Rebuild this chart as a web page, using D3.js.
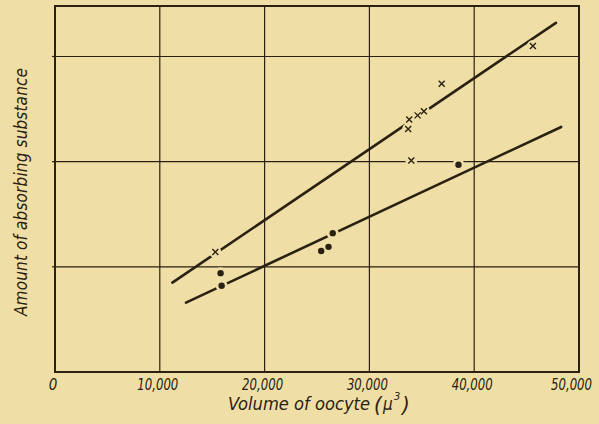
<!DOCTYPE html>
<html><head><meta charset="utf-8">
<script src="https://cdn.jsdelivr.net/npm/d3@7"></script>
<style>
html,body{margin:0;padding:0;background:#efdfa6;}
svg{display:block;}
text{font-family:"Liberation Sans Narrow","DejaVu Sans Condensed",sans-serif;font-style:italic;fill:#2a2112;}
</style></head>
<body>
<svg id="c" width="599" height="424"></svg>
<script>
// ---- data ----
const xTicks = [0, 10000, 20000, 30000, 40000, 50000];
const xTickLabels = ["0", "10,000", "20,000", "30,000", "40,000", "50,000"];
const yGrid = [1, 2, 3];
// crosses (upper series)
const crossX = [15300, 33800, 34600, 35200, 33700, 36900, 34000, 45600];
const crossY = [1.14, 2.40, 2.44, 2.48, 2.31, 2.74, 2.01, 3.10];
// dots (lower series)
const dotX = [15800, 15900, 25400, 26100, 26500, 38500];
const dotY = [0.94, 0.82, 1.15, 1.19, 1.32, 1.97];
// fitted lines (end points)
const upperLineX = [11200, 47800];
const upperLineY = [0.85, 3.32];
const lowerLineX = [12500, 48300];
const lowerLineY = [0.66, 2.33];
const xTitle = "Volume of oocyte";
const xUnit = "μ";
const yTitle = "Amount of absorbing substance";

// ---- drawing ----
const bg = "#efdfa6", ink = "#2a2112";
const svg = d3.select("#c");
const x = d3.scaleLinear().domain([0, 50000]).range([55, 579]);
const y = d3.scaleLinear().domain([0, 3.48]).range([372, 6]);

const g = svg.append("g");
g.selectAll(".vg").data(xTicks.slice(1, -1)).join("line")
  .attr("x1", d => x(d)).attr("x2", d => x(d))
  .attr("y1", y(0)).attr("y2", y(3.48))
  .attr("stroke", ink).attr("stroke-width", 1.2);
g.selectAll(".hg").data(yGrid).join("line")
  .attr("x1", x(0)).attr("x2", x(50000))
  .attr("y1", d => y(d)).attr("y2", d => y(d))
  .attr("stroke", ink).attr("stroke-width", 1.2);
g.selectAll(".lt").data(yGrid).join("line")
  .attr("x1", x(0) - 3).attr("x2", x(0))
  .attr("y1", d => y(d)).attr("y2", d => y(d))
  .attr("stroke", ink).attr("stroke-width", 1.2);
g.append("rect").attr("x", x(0)).attr("y", y(3.48))
  .attr("width", x(50000) - x(0)).attr("height", y(0) - y(3.48))
  .attr("fill", "none").attr("stroke", ink).attr("stroke-width", 2);

const line = d3.line().x(d => x(d[0])).y(d => y(d[1]));
[[upperLineX, upperLineY], [lowerLineX, lowerLineY]].forEach(([xs, ys]) => {
  g.append("path").datum(xs.map((v, i) => [v, ys[i]]))
    .attr("d", line).attr("fill", "none")
    .attr("stroke", ink).attr("stroke-width", 2.6).attr("stroke-linecap", "round");
});

const crosses = crossX.map((v, i) => [v, crossY[i]]);
const dots = dotX.map((v, i) => [v, dotY[i]]);
const cr = 3;
const crossPath = d => {
  const cx = x(d[0]), cy = y(d[1]);
  return `M${cx-cr},${cy-cr}L${cx+cr},${cy+cr}M${cx-cr},${cy+cr}L${cx+cr},${cy-cr}`;
};
g.selectAll(".ch").data(crosses).join("circle")
  .attr("cx", d => x(d[0])).attr("cy", d => y(d[1])).attr("r", 6).attr("fill", bg);
g.selectAll(".dh").data(dots).join("circle")
  .attr("cx", d => x(d[0])).attr("cy", d => y(d[1])).attr("r", 6).attr("fill", bg);
g.selectAll(".cm").data(crosses).join("path")
  .attr("d", crossPath).attr("stroke", ink).attr("stroke-width", 1.4).attr("fill", "none");
g.selectAll(".dm").data(dots).join("circle")
  .attr("cx", d => x(d[0])).attr("cy", d => y(d[1])).attr("r", 3.2).attr("fill", ink);

// tick labels
g.selectAll(".tl").data(xTicks).join("text")
  .attr("x", d => d === 50000 ? 592 : x(d) - 2).attr("y", 390)
  .attr("text-anchor", d => d === 50000 ? "end" : "middle").attr("font-size", 15)
  .attr("textLength", (d, i) => xTickLabels[i].length > 1 ? 41 : null)
  .attr("lengthAdjust", "spacingAndGlyphs")
  .text((d, i) => xTickLabels[i]);

// x title
g.append("text").attr("x", 228).attr("y", 410)
  .attr("font-size", 17).attr("textLength", 142).attr("lengthAdjust", "spacingAndGlyphs")
  .text(xTitle);
g.append("text").attr("x", 374).attr("y", 412).attr("font-size", 22)
  .attr("font-style", "normal").text("(");
g.append("text").attr("x", 383).attr("y", 410).attr("font-size", 17)
  .attr("font-style", "normal").text(xUnit);
g.append("text").attr("x", 394).attr("y", 400).attr("font-size", 11)
  .attr("font-style", "normal").text("3");
g.append("text").attr("x", 402).attr("y", 412).attr("font-size", 22)
  .attr("font-style", "normal").text(")");

// y title
g.append("text").attr("transform", "translate(27,192) rotate(-90)")
  .attr("text-anchor", "middle").attr("font-size", 17)
  .attr("textLength", 248).attr("lengthAdjust", "spacing")
  .text(yTitle);
</script>
</body></html>
